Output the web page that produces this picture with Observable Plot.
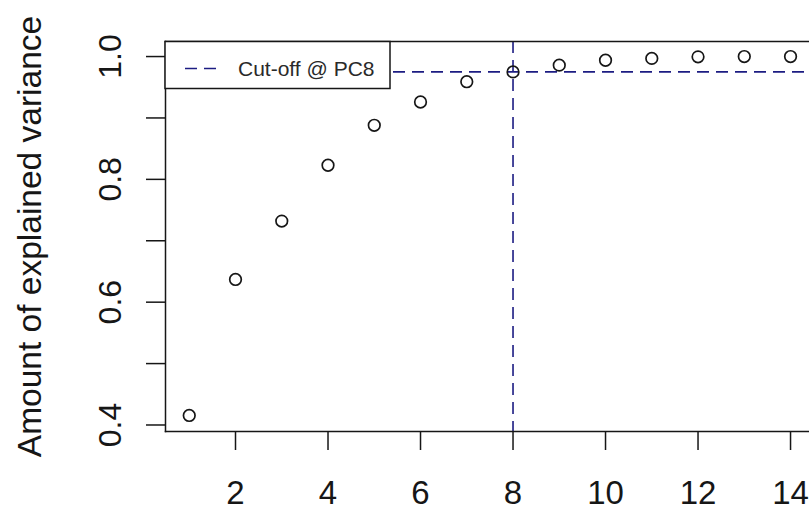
<!DOCTYPE html>
<html>
<head>
<meta charset="utf-8">
<script src="https://cdn.jsdelivr.net/npm/d3@7"></script>
<script src="https://cdn.jsdelivr.net/npm/@observablehq/plot@0.6"></script>
<style>
  html, body { margin: 0; padding: 0; background: #fff; overflow: hidden; }
  #chart svg { display: block; }
</style>
</head>
<body>
<div id="chart"></div>
<script>
// ---- data ----
const components = [1, 2, 3, 4, 5, 6, 7, 8, 9, 10, 11, 12, 13, 14];
const cumulativeVariance = [0.4155, 0.637, 0.732, 0.823, 0.888, 0.926, 0.959, 0.975, 0.986, 0.994, 0.997, 0.9995, 1.0, 1.0];
const cutoffComponent = 8;
const cutoffVariance = 0.975;
const xTicks = [2, 4, 6, 8, 10, 12, 14];
const yTicks = [0.4, 0.5, 0.6, 0.7, 0.8, 0.9, 1.0];
const yTickLabels = ["0.4", "", "0.6", "", "0.8", "", "1.0"];
const yTitle = "Amount of explained variance";
const legendLabel = "Cut-off @ PC8";

const rows = components.map((c, i) => ({pc: c, v: cumulativeVariance[i]}));

const ink = "#161616";
const cutColor = "#1c1c82";
const font = "'Liberation Sans', Arial, sans-serif";

const W = 809, H = 510;
const mL = 165, mT = 41, mB = 79, mR = 0;

const chart = Plot.plot({
  width: W,
  height: H,
  marginLeft: mL,
  marginRight: mR,
  marginTop: mT,
  marginBottom: mB,
  style: {fontFamily: font, color: ink, background: "#fff", overflow: "visible"},
  x: {domain: [0.4865, 14.41]},
  y: {domain: [0.3894, 1.0245]},
  marks: [
    Plot.ruleX([cutoffComponent], {stroke: cutColor, strokeWidth: 1.6, strokeDasharray: "12,7"}),
    Plot.ruleY([cutoffVariance], {stroke: cutColor, strokeWidth: 1.6, strokeDasharray: "12,7"}),
    Plot.dot(rows, {x: "pc", y: "v", r: 5.8, stroke: ink, strokeWidth: 1.7, fill: "none"}),
    Plot.frame({anchor: "top", stroke: ink, strokeWidth: 1.5}),
    Plot.frame({anchor: "bottom", stroke: ink, strokeWidth: 1.5}),
    Plot.frame({anchor: "left", stroke: ink, strokeWidth: 1.5}),
    Plot.axisX({
      ticks: xTicks, tickSize: 19, tickPadding: 30, fontSize: 33,
      tickFormat: d => String(d), label: null, strokeWidth: 1.5
    }),
    Plot.axisY({
      ticks: yTicks, tickSize: 19, tickPadding: 26, tickRotate: -90, fontSize: 32,
      tickFormat: d => yTickLabels[yTicks.indexOf(d)] ?? "", label: null, strokeWidth: 1.5
    }),
    Plot.text([yTitle], {
      frameAnchor: "left", rotate: -90, dx: -125, textAnchor: "middle",
      lineAnchor: "bottom", fontSize: 33.5, fill: ink
    })
  ]
});

document.getElementById("chart").appendChild(chart);

// ---- legend (R-style topleft box) ----
const svg = d3.select(chart);
const lg = svg.append("g").attr("font-family", font).attr("text-anchor", "start");
const lx = mL, ly = mT + 0.5, lw = 225, lh = 47;
lg.append("rect")
  .attr("x", lx).attr("y", ly).attr("width", lw).attr("height", lh)
  .attr("fill", "#fff").attr("stroke", ink).attr("stroke-width", 1.5);
lg.append("line")
  .attr("x1", lx + 20).attr("x2", lx + 57).attr("y1", ly + 27).attr("y2", ly + 27)
  .attr("stroke", cutColor).attr("stroke-width", 1.6).attr("stroke-dasharray", "12,7");
lg.append("text")
  .attr("x", lx + 73).attr("y", ly + 34.5)
  .attr("text-anchor", "start")
  .attr("font-size", 21).attr("fill", "#2a2a2a")
  .text(legendLabel);
</script>
</body>
</html>
